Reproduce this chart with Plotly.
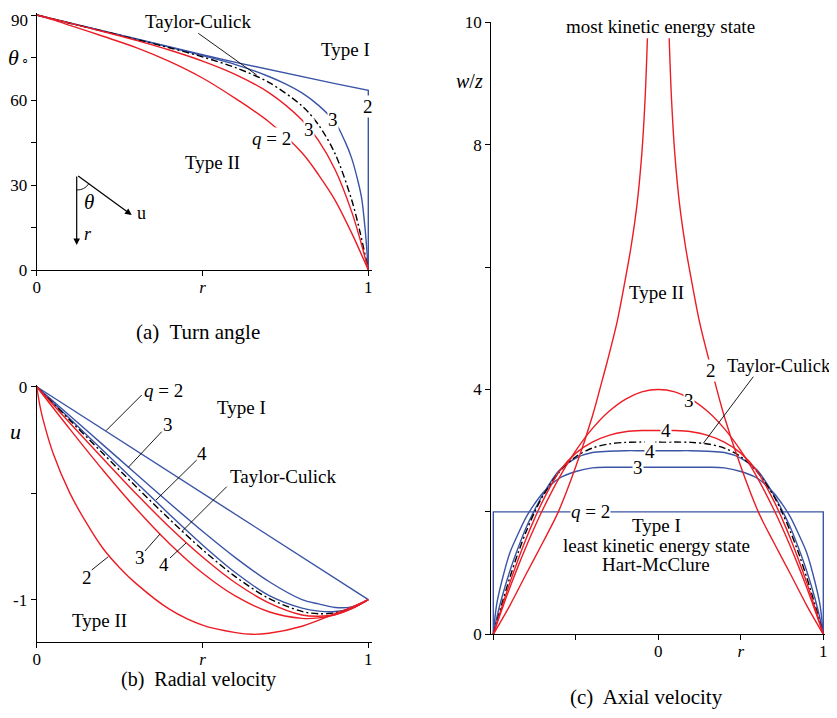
import plotly.graph_objects as go

RED = "#ec1c24"
BLUE = "#3a54a6"
FONT = "Liberation Serif"

# ---------------- panel (a): turn angle theta (deg) vs r ----------------
A_R_HM = [0, 0.1, 0.2, 0.3, 0.4, 0.5, 0.6, 0.7, 0.8, 0.9, 1.0, 1.0]
A_TH_HM = [90, 87.14, 84.29, 81.47, 78.69, 75.96, 73.30, 70.71, 68.20, 65.77, 63.43, 0]
A_R_B3 = [0, 0.1, 0.2, 0.3, 0.4, 0.5, 0.6, 0.7, 0.75, 0.8, 0.85, 0.9, 0.93, 0.95, 0.97, 0.98, 0.99, 1.0]
A_TH_B3 = [90, 87.14, 84.29, 81.47, 78.65, 75.68, 72.5, 68.3, 65.7, 62.5, 58.1, 52.1, 45.3, 39.4, 30.8, 25.3, 15.0, 0]
A_R_TC = [0, 0.1, 0.2, 0.3, 0.4, 0.5, 0.6, 0.7, 0.8, 0.85, 0.9, 0.95, 0.975, 1.0]
A_TH_TC = [90, 87.1, 84.3, 81.4, 78.45, 75.23, 71.4, 66.22, 57.9, 51.2, 41.0, 24.7, 13.4, 0]
A_R_R3 = [0, 0.1, 0.2, 0.3, 0.4, 0.5, 0.6, 0.7, 0.8, 0.85, 0.9, 0.95, 0.975, 1.0]
A_TH_R3 = [90, 87.12, 84.17, 81.05, 77.64, 73.74, 68.97, 62.61, 52.93, 45.63, 35.36, 20.51, 10.92, 0]
A_R_R2 = [0, 0.05, 0.1, 0.2, 0.3, 0.4, 0.5, 0.6, 0.7, 0.8, 0.85, 0.9, 0.95, 1.0]
A_TH_R2 = [90, 88.3, 86.36, 82.49, 78.5, 73.64, 67.77, 60.48, 52.33, 41.35, 33.6, 24.6, 13.0, 0]
A_TICKS = [0, 15, 30, 45, 60, 75, 90]
A_TICKTEXT = ["0", "", "30", "", "60", "", ""]

# ---------------- panel (b): radial velocity u vs r ----------------
B_R = [0, 0.1, 0.2, 0.3, 0.4, 0.5, 0.6, 0.7, 0.8, 0.85, 0.9, 0.95, 1.0]
B_U_HM = [0, -0.1, -0.2, -0.3, -0.4, -0.5, -0.6, -0.7, -0.8, -0.85, -0.9, -0.95, -1.0]
B_U_B3 = [0, -0.1365, -0.273, -0.4095, -0.546, -0.679, -0.804, -0.915, -1.0, -1.02, -1.037, -1.034, -1.0]
B_U_B4 = [0, -0.15, -0.30, -0.45, -0.599, -0.743, -0.874, -0.98, -1.04, -1.054, -1.056, -1.04, -1.0]
B_U_TC = [0, -0.157, -0.314, -0.4697, -0.6217, -0.7654, -0.893, -0.9941, -1.0554, -1.0662, -1.062, -1.0403, -1.0]
B_U_R4 = [0, -0.17, -0.338, -0.503, -0.659, -0.80, -0.922, -1.015, -1.072, -1.078, -1.07, -1.042, -1.0]
B_U_R3 = [0, -0.199, -0.392, -0.573, -0.736, -0.875, -0.984, -1.057, -1.088, -1.0859, -1.071, -1.0426, -1.0]
B_R_R2 = [0, 0.01, 0.02, 0.05, 0.1, 0.15, 0.2, 0.25, 0.3, 0.4, 0.5, 0.6, 0.65, 0.7, 0.8, 0.9, 0.95, 1.0]
B_U_R2 = [0, -0.092, -0.159, -0.315, -0.50, -0.64, -0.76, -0.85, -0.925, -1.045, -1.12, -1.155, -1.163, -1.158, -1.125, -1.066, -1.035, -1.0]

# ---------------- panel (c): axial velocity w/z vs r (half profiles, r >= 0) ----------------
C_R = [0, 0.1, 0.2, 0.3, 0.4, 0.5, 0.6, 0.7, 0.75, 0.8, 0.85, 0.9, 0.95, 0.98, 1.0]
C_W_B3 = [2.73, 2.73, 2.73, 2.73, 2.72, 2.66, 2.55, 2.31, 2.13, 1.92, 1.64, 1.33, 0.85, 0.48, 0]
C_W_B4 = [3.0, 3.0, 3.0, 2.99, 2.97, 2.88, 2.68, 2.28, 2.03, 1.75, 1.41, 1.03, 0.58, 0.26, 0]
C_W_TC = [3.1416, 3.1412, 3.1354, 3.110, 3.043, 2.902, 2.652, 2.256, 1.993, 1.683, 1.328, 0.924, 0.479, 0.195, 0]
C_W_R4 = [3.33, 3.33, 3.31, 3.25, 3.14, 2.96, 2.66, 2.18, 1.89, 1.57, 1.22, 0.84, 0.43, 0.17, 0]
C_W_R3 = [4.0, 3.96, 3.84, 3.64, 3.36, 3.0, 2.56, 2.04, 1.75, 1.44, 1.11, 0.76, 0.39, 0.158, 0]
C_R_R2 = [0.066, 0.08, 0.1, 0.13, 0.167, 0.2, 0.25, 0.31, 0.34, 0.4, 0.5, 0.606, 0.7, 0.8, 0.9, 1.0]
C_W_R2 = [9.74, 8.75, 7.85, 7.0, 6.3, 5.8, 5.1, 4.45, 4.15, 3.56, 2.74, 2.0, 1.5, 0.99, 0.47, 0]
C_R_HM = [-1, -1, 1, 1]
C_W_HM = [0, 2, 2, 0]

W, H = 837, 718
OFF = 8  # the page places the figure 8 px in from the top-left corner


def P(px, py):
    return (px - OFF) / W, 1 - (py - OFF) / H


def dom_x(p0, p1):
    return [(p0 - OFF) / W, (p1 - OFF) / W]


def dom_y(top, bottom):
    return [1 - (bottom - OFF) / H, 1 - (top - OFF) / H]


def mirror(r, w):
    xs = [-v for v in r[::-1]] + list(r[1:])
    ys = list(w[::-1]) + list(w[1:])
    return xs, ys


def mirror_gap(r, w):
    xs = [-v for v in r[::-1]] + [None] + list(r)
    ys = list(w[::-1]) + [None] + list(w)
    return xs, ys


fig = go.Figure()


def add(x, y, color, ax, dash=None, shape="spline", width=1.4, smoothing=0.9):
    line = dict(color=color, width=width, shape=shape)
    if shape == "spline":
        line["smoothing"] = smoothing
    if dash:
        line["dash"] = dash
    fig.add_trace(go.Scatter(x=x, y=y, mode="lines", line=line,
                             xaxis="x" + ax, yaxis="y" + ax, hoverinfo="skip"))


DASHDOT = "7px,3px,2px,3px"

# panel (a)
add(A_R_HM, A_TH_HM, BLUE, "", shape="linear")
add(A_R_B3, A_TH_B3, BLUE, "")
add(A_R_TC, A_TH_TC, "black", "", dash=DASHDOT)
add(A_R_R3, A_TH_R3, RED, "")
add(A_R_R2, A_TH_R2, RED, "")

# panel (b)
add(B_R, B_U_HM, BLUE, "2", shape="linear")
add(B_R, B_U_B3, BLUE, "2")
add(B_R, B_U_B4, BLUE, "2")
add(B_R, B_U_TC, "black", "2", dash=DASHDOT)
add(B_R, B_U_R4, RED, "2")
add(B_R, B_U_R3, RED, "2")
add(B_R_R2, B_U_R2, RED, "2")

# panel (c)
add(C_R_HM, C_W_HM, BLUE, "3", shape="linear")
for wv, col, dsh in [(C_W_B3, BLUE, None), (C_W_B4, BLUE, None), (C_W_TC, "black", DASHDOT),
                     (C_W_R4, RED, None), (C_W_R3, RED, None)]:
    xs, ys = mirror(C_R, wv)
    add(xs, ys, col, "3", dash=dsh)
xs, ys = mirror_gap(C_R_R2, C_W_R2)
add(xs, ys, RED, "3")

axis_common = dict(showline=True, linecolor="black", linewidth=1.3, ticks="outside",
                   ticklen=5, tickwidth=1.3, tickcolor="black", showgrid=False,
                   zeroline=False, automargin=False, ticklabeloverflow="allow",
                   tickfont=dict(family=FONT, size=17, color="black"))
xaxis_extra = dict(ticklabelstandoff=-4)

ax_a_x = dom_x(36.7, 36.7 + 1.01 * 331.6)
ax_a_y = dom_y(13.3, 270)
ax_b_y = dom_y(384.6, 642.2)
ax_c_x = dom_x(491.32, 825.28)
ax_c_y = dom_y(22.3, 634.3)

fig.update_layout(
    width=W, height=H, autosize=False,
    margin=dict(l=0, r=0, t=0, b=0, pad=0, autoexpand=False),
    paper_bgcolor="white", plot_bgcolor="white", showlegend=False,
    xaxis=dict(axis_common, **xaxis_extra, domain=ax_a_x, range=[0, 1.01], anchor="y",
               tickvals=[0, 0.5, 1], ticktext=["0", "<i>r</i>", "1"]),
    yaxis=dict(axis_common, domain=ax_a_y, range=[0, 90.6], anchor="x",
               tickvals=A_TICKS, ticktext=A_TICKTEXT),
    xaxis2=dict(axis_common, **xaxis_extra, domain=ax_a_x, range=[0, 1.01], anchor="y2",
                tickvals=[0, 0.5, 1], ticktext=["0", "<i>r</i>", "1"]),
    yaxis2=dict(axis_common, domain=ax_b_y, range=[-1.2, 0.01], anchor="x2",
                tickvals=[-1, -0.5, 0], ticktext=["-1", "", "0"]),
    xaxis3=dict(axis_common, **xaxis_extra, domain=ax_c_x, range=[-1.012, 1.012], anchor="y3",
                tickvals=[-1, -0.5, 0, 0.5, 1], ticktext=["", "", "0", "<i>r</i>", "1"]),
    yaxis3=dict(axis_common, domain=ax_c_y, range=[0, 10], anchor="x3",
                tickvals=[0, 2, 4, 6, 8, 10], ticktext=["0", "", "4", "", "8", "10"]),
)

annots = []


def text(px, py, s, size=19, bg=None, xanchor="center", yanchor="middle"):
    x, y = P(px, py)
    d = dict(x=x, y=y, xref="paper", yref="paper", text=s, showarrow=False,
             font=dict(family=FONT, size=size, color="black"), xanchor=xanchor, yanchor=yanchor)
    if bg:
        d["bgcolor"] = bg
        d["borderpad"] = 0
    annots.append(d)


def arrow(px0, py0, px1, py1):
    x, y = P(px1, py1)
    annots.append(dict(x=x, y=y, xref="paper", yref="paper", text="", showarrow=True,
                       ax=px0 - px1, ay=py0 - py1, arrowhead=2, arrowsize=1.1,
                       arrowwidth=1.2, arrowcolor="black", standoff=0))


shapes = []


def seg(px0, py0, px1, py1, width=0.9):
    x0, y0 = P(px0, py0)
    x1, y1 = P(px1, py1)
    shapes.append(dict(type="line", xref="paper", yref="paper", x0=x0, y0=y0, x1=x1, y1=y1,
                       line=dict(color="black", width=width)))


# panel (a) texts
text(29.5, 8.6, "90", size=17, xanchor="right", yanchor="top")  # top tick label, kept inside the page
text(198, 21.7, "Taylor-Culick")
seg(198.3, 33.3, 256.7, 75)
text(345, 49.3, "Type I")
text(212.5, 162.3, "Type II")
text(271.7, 138.3, "<i>q</i> = 2", bg="white")
text(309.3, 130, "3", bg="white")
text(333.3, 119.3, "3", bg="white")
text(367.7, 106.7, "2", bg="white")
text(13.3, 57.5, "<i>θ</i>", size=22)
text(25, 59, "∘", size=13)
# inset
arrow(76.7, 175, 76.7, 245)
arrow(76.7, 175, 131.7, 215)
text(88, 234, "<i>r</i>", size=18)
text(141, 213, "u", size=18)
text(89, 202, "<i>θ</i>", size=21)
p1 = P(76.7, 190)
pc = P(84.3, 190.2)
p2 = P(88.8, 183.8)
shapes.append(dict(type="path", xref="paper", yref="paper",
                   path=f"M {p1[0]},{p1[1]} Q {pc[0]},{pc[1]} {p2[0]},{p2[1]}",
                   line=dict(color="black", width=0.9)))
text(198.3, 332, "(a)  Turn angle", size=21)

# panel (b) texts
text(163.3, 390, "<i>q</i> = 2")
seg(141.7, 395, 106, 430.7)
text(168.3, 424, "3")
seg(161.7, 431.7, 128.3, 467.3)
text(201.7, 454, "4")
seg(196.7, 460, 156, 500)
text(283.3, 476, "Taylor-Culick")
seg(226.7, 486.7, 181.7, 531.7)
text(140, 557, "3")
seg(145, 551, 160, 534)
text(164.3, 564, "4")
seg(170, 558, 186, 543)
text(86.7, 577, "2")
seg(91.7, 570, 108.3, 556.7)
text(241.7, 407.3, "Type I")
text(99.3, 620, "Type II")
text(15, 431, "<i>u</i>", size=22)
text(198, 679, "(b)  Radial velocity", size=20)

# panel (c) texts
text(660, 26.7, "most kinetic energy state")
text(469, 81, "<i>w</i>/<i>z</i>", size=20)
text(656.7, 292.7, "Type II")
text(710.7, 370, "2", bg="white")
text(778.5, 366, "Taylor-Culick", size=18.5)
seg(753.3, 376.7, 703.3, 443.3)
text(689.3, 400, "3", bg="white")
text(666, 430, "4", bg="white")
text(650, 451, "4", bg="white")
text(638.3, 467.3, "3", bg="white")
text(590, 511.7, "<i>q</i> = 2", bg="white")
text(656.7, 525.7, "Type I")
text(656, 545.7, "least kinetic energy state")
text(656, 564, "Hart-McClure")
text(646, 696.7, "(c)  Axial velocity", size=21)

fig.update_layout(annotations=annots, shapes=shapes)
fig.write_html("out.html")
